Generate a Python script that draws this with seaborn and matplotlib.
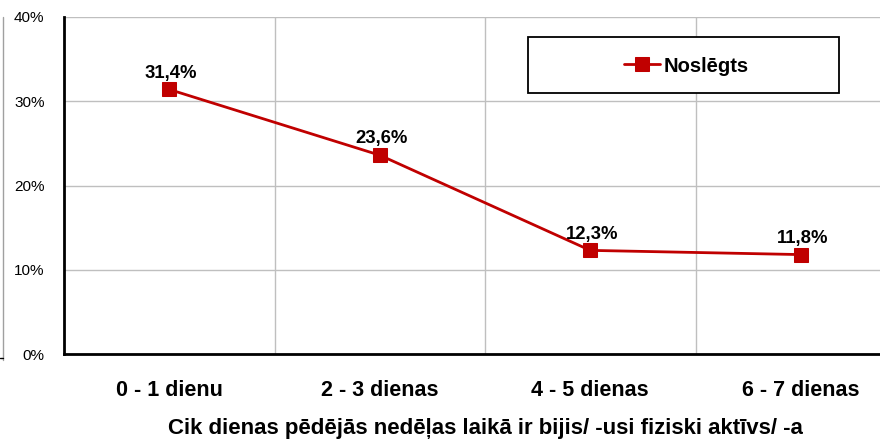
import matplotlib
matplotlib.use("Agg")
import matplotlib.pyplot as plt
from matplotlib.lines import Line2D
from matplotlib.patches import Rectangle
from matplotlib.ticker import FixedLocator, PercentFormatter
import numpy as np
import pandas as pd
import seaborn as sns

categories = ["0 - 1 dienu", "2 - 3 dienas", "4 - 5 dienas", "6 - 7 dienas"]
values = [31.4, 23.6, 12.3, 11.8]
series_name = "Noslēgts"
x_title = "Cik dienas pēdējās nedēļas laikā ir bijis/ -usi fiziski aktīvs/ -a"

sns.set_style("white")
plt.rcParams['font.family'] = ['Liberation Sans', 'DejaVu Sans']
plt.rcParams['text.color'] = 'black'
plt.rcParams['xtick.color'] = 'black'
plt.rcParams['ytick.color'] = 'black'
plt.rcParams['axes.labelcolor'] = 'black'

RED = "#C00000"
W, H = 880, 441

df = pd.DataFrame({"pos": np.arange(len(categories)), "val": values})

fig = plt.figure(figsize=(W/100, H/100), dpi=100)
ax = fig.add_axes([64/W, 87/H, 842/W, 337/H])

sns.lineplot(data=df, x="pos", y="val", ax=ax, color=RED, linewidth=2,
             marker="s", markersize=9.5, markeredgecolor=RED, label=series_name,
             zorder=3)

for x, v in zip(df["pos"], df["val"]):
    ax.annotate(f"{v:.1f}%".replace(".", ","), (x, v), xytext=(1, 8.5),
                textcoords="offset points", ha="center", va="baseline",
                fontsize=13.3, fontweight="bold")

ax.set_xlim(-0.5, 3.5)
ax.set_ylim(0, 40)
ax.yaxis.set_major_locator(FixedLocator([0, 10, 20, 30, 40]))
ax.yaxis.set_major_formatter(PercentFormatter(decimals=0))
ax.xaxis.set_major_locator(FixedLocator([0.5, 1.5, 2.5]))
ax.xaxis.set_minor_locator(FixedLocator(list(range(len(categories)))))
ax.set_xticklabels([], minor=False)
ax.set_xticklabels(categories, minor=True, fontsize=15.5, fontweight="bold")
ax.tick_params(axis="x", which="minor", length=0, pad=19)
ax.tick_params(axis="x", which="major", length=4.5, width=1.2, direction="out")
ax.tick_params(axis="y", length=4, width=1.2, direction="out", labelsize=11, pad=10)
ax.grid(True, which="major", color="#BFBFBF", linewidth=1)
ax.set_xlabel(x_title, fontsize=16, fontweight="bold", labelpad=12)
ax.set_ylabel("")

for s in ["top", "right"]:
    ax.spines[s].set_visible(False)
for s in ["left", "bottom"]:
    ax.spines[s].set_color("black")
    ax.spines[s].set_linewidth(2)

# legend: box drawn as a patch, entry centred inside it
bx0, bx1, by0, by1 = 528, 839, 37, 93
ax.add_patch(Rectangle(((bx0-64)/842, (354-by1)/337), (bx1-bx0)/842, (by1-by0)/337,
                       transform=ax.transAxes, facecolor="white", edgecolor="black",
                       linewidth=1.3, zorder=4, clip_on=False))
leg = ax.legend(loc="center", bbox_to_anchor=(((bx0+bx1)/2-64+3)/842, (354-(by0+by1)/2-1)/337),
                bbox_transform=ax.transAxes, frameon=False,
                prop={"weight": "bold", "size": 14.5}, handlelength=1.8,
                handletextpad=0.2, borderpad=0)
leg.set_zorder(5)

# fragment of outer chart border at the left edge
fig.add_artist(Line2D([3/W, 3/W], [1 - 17/H, 1 - 360/H], color="#A0A0A0", linewidth=1))
fig.add_artist(Line2D([0, 3/W], [1 - 358/H, 1 - 358/H], color="black", linewidth=1))

fig.savefig("out.png", dpi=100)
